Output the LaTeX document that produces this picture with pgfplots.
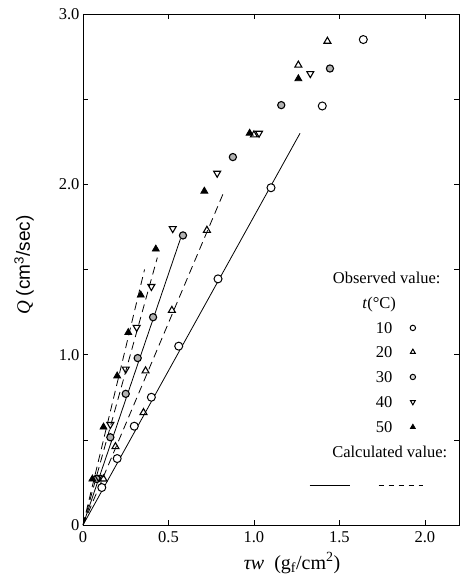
\documentclass[border=0pt]{standalone}
\usepackage{fontspec}
\setmainfont{Liberation Serif}
\setsansfont{Liberation Sans}
\usepackage{pgfplots}
\pgfplotsset{compat=1.18}
\begin{document}
\begin{tikzpicture}
\begin{axis}[name=ax, scale only axis, width=376pt, height=511pt,
 xmin=0, xmax=2.2, ymin=0, ymax=3,
 xtick={0,0.5,1,1.5,2}, xticklabels={0,0.5,1.0,1.5,2.0},
 ytick={0,1,2,3}, yticklabels={0,1.0,2.0,3.0}, minor ytick={0.5,1.5,2.5},
 tick align=inside, major tick length=5pt, minor tick length=5pt,
 tick style={black, line width=0.6pt},
 axis line style={line width=0.9pt},
 ticklabel style={font=\fontsize{16.5}{19}\selectfont},
 xticklabel style={yshift=-3pt},
 /pgf/number format/assume math mode=true,
 xlabel={\textit{τw}\ \ (g\textsubscript{f}/cm\textsuperscript{2})},
 ylabel={\textit{Q} \textsf{(cm\textsuperscript{3}/sec)}},
 xlabel style={at={(axis description cs:0.556,-0.074)}, anchor=center, font=\fontsize{20}{23}\selectfont},
 ylabel style={at={(axis description cs:-0.157,0.509)}, anchor=center, font=\fontsize{19}{22}\selectfont},
 every axis plot/.append style={line width=0.8pt, black},
]
% calculated lines
\addplot[solid] coordinates {(0,0) (1.27,2.30)};
\addplot[dash pattern=on 8pt off 5pt] coordinates {(0,0) (0.825,1.957)};
\addplot[solid] coordinates {(0,0) (0.57,1.68)};
\addplot[dash pattern=on 8pt off 5pt] coordinates {(0,0) (0.435,1.57)};
\addplot[dash pattern=on 8pt off 5pt] coordinates {(0,0) (0.36,1.50)};
% observed 10 C
\addplot[only marks, mark=*, mark size=4pt, mark options={fill=white, draw=black, line width=1pt}] coordinates {
(0.11,0.22) (0.20,0.39) (0.30,0.58) (0.40,0.75) (0.56,1.05) (0.79,1.445) (1.10,1.98) (1.40,2.46) (1.64,2.85)};
% 20 C
\addplot[only marks, mark=triangle, mark size=4pt, mark options={line width=1.1pt}] coordinates {
(0.12,0.27) (0.19,0.46) (0.354,0.66) (0.366,0.905) (0.52,1.26) (0.725,1.73) (1.00,2.29) (1.26,2.70) (1.43,2.84)};
% 30 C
\addplot[only marks, mark=*, mark size=3.6pt, mark options={fill=gray!60, draw=black, line width=1.1pt}] coordinates {
(0.08,0.27) (0.16,0.515) (0.25,0.77) (0.32,0.98) (0.41,1.22) (0.585,1.70) (0.877,2.16) (1.16,2.465) (1.445,2.68)};
% 40 C
\addplot[only marks, mark=triangle, mark size=4pt, mark options={rotate=180, line width=1.1pt}] coordinates {
(0.09,0.28) (0.16,0.59) (0.25,0.915) (0.314,1.16) (0.40,1.40) (0.525,1.74) (0.785,2.065) (1.03,2.30) (1.33,2.65)};
% 50 C
\addplot[only marks, mark=triangle*, mark size=4pt, mark options={fill=black}] coordinates {
(0.055,0.27) (0.12,0.575) (0.20,0.875) (0.265,1.13) (0.338,1.35) (0.426,1.62) (0.71,1.96) (0.975,2.30) (1.26,2.62)};
% legend markers
\addplot[only marks, mark=*, mark size=2.7pt, mark options={fill=white, draw=black, line width=1pt}] coordinates {(1.93,1.157)};
\addplot[only marks, mark=triangle, mark size=2.8pt, mark options={line width=1pt}] coordinates {(1.93,1.016)};
\addplot[only marks, mark=*, mark size=2.7pt, mark options={fill=gray!30, draw=black, line width=1pt}] coordinates {(1.93,0.869)};
\addplot[only marks, mark=triangle, mark size=2.8pt, mark options={rotate=180, line width=1pt}] coordinates {(1.93,0.722)};
\addplot[only marks, mark=triangle*, mark size=2.8pt, mark options={fill=black}] coordinates {(1.93,0.575)};
\addplot[solid] coordinates {(1.326,0.235) (1.56,0.235)};
\addplot[dash pattern=on 5pt off 5pt] coordinates {(1.73,0.235) (1.99,0.235)};
% legend text
\begin{scope}[every node/.style={font=\fontsize{16.5}{19}\selectfont, inner sep=0pt}]
\node at (axis cs:1.777,1.450) {Observed value:};
\node at (axis cs:1.733,1.292) {\textit{t}(°C)};
\node[anchor=east] at (axis cs:1.812,1.157) {10};
\node[anchor=east] at (axis cs:1.812,1.016) {20};
\node[anchor=east] at (axis cs:1.812,0.869) {30};
\node[anchor=east] at (axis cs:1.812,0.722) {40};
\node[anchor=east] at (axis cs:1.812,0.575) {50};
\node at (axis cs:1.795,0.429) {Calculated value:};
\end{scope}
\end{axis}
\pgfresetboundingbox
\path[use as bounding box] ([shift={(-83pt,-60pt)}]ax.south west) rectangle ([shift={(0.5pt,14pt)}]ax.north east);
\end{tikzpicture}
\end{document}
